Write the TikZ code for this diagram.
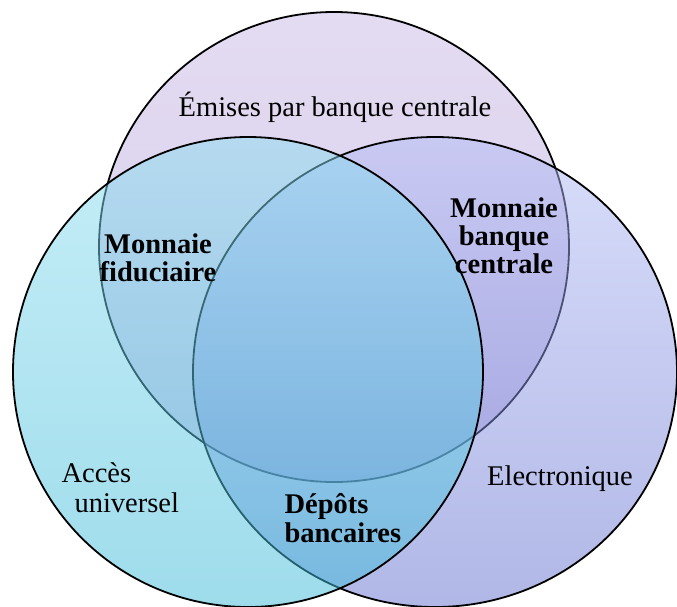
\documentclass[tikz,border=0pt]{standalone}
\usepackage{fontspec}
\setmainfont{Liberation Serif}
\usetikzlibrary{positioning}
\usetikzlibrary{shapes.geometric}

\definecolor{emisA}{RGB}{201,185,229}
\definecolor{emisB}{RGB}{172,152,214}
\definecolor{accA}{RGB}{140,221,240}
\definecolor{accB}{RGB}{62,186,216}
\definecolor{elecA}{RGB}{178,188,246}
\definecolor{elecB}{RGB}{98,112,206}

\begin{document}
\begin{tikzpicture}
[x=1pt,y=-1pt,
 set/.style={draw=black,line width=1.8pt,fill opacity=0.5,inner sep=0pt},
 plain/.style={font=\fontsize{28.5}{30}\selectfont,text=black},
 key/.style={font=\fontsize{28.5}{28}\selectfont\bfseries,text=black}]

\useasboundingbox (0,0) rectangle (677,606);

% the three sets
\node (emis) [set,circle,minimum size=470pt,
	top color=emisA,bottom color=emisB] at (334,247) {};
\node (elec) [set,ellipse,minimum width=484pt,minimum height=470pt,
	top color=elecA,bottom color=elecB] at (435,372) {};
\node (acces) [set,circle,minimum size=470pt,
	top color=accA,bottom color=accB] at (248,372) {};

% labels of the sets
\node (temis) [plain,anchor=base] at (335,116) {Émises par banque centrale};
\node (telec) [plain,anchor=base] at (560,485) {Electronique};
\node (tacces) [plain,align=left,anchor=base west] at (58,512)
	{Accès\\\hspace*{13pt}universel};

% labels of the overlaps
\node (fidu) [key,align=center,anchor=base] at (158,281) {Monnaie\\fiduciaire};
\node (mbc) [key,align=center,anchor=base] at (504,273) {Monnaie\\banque\\centrale};
\node (depots) [key,align=left,anchor=base west,
	font=\fontsize{28.5}{29}\selectfont\bfseries] at (281,542) {Dépôts\\bancaires};
\end{tikzpicture}
\end{document}
